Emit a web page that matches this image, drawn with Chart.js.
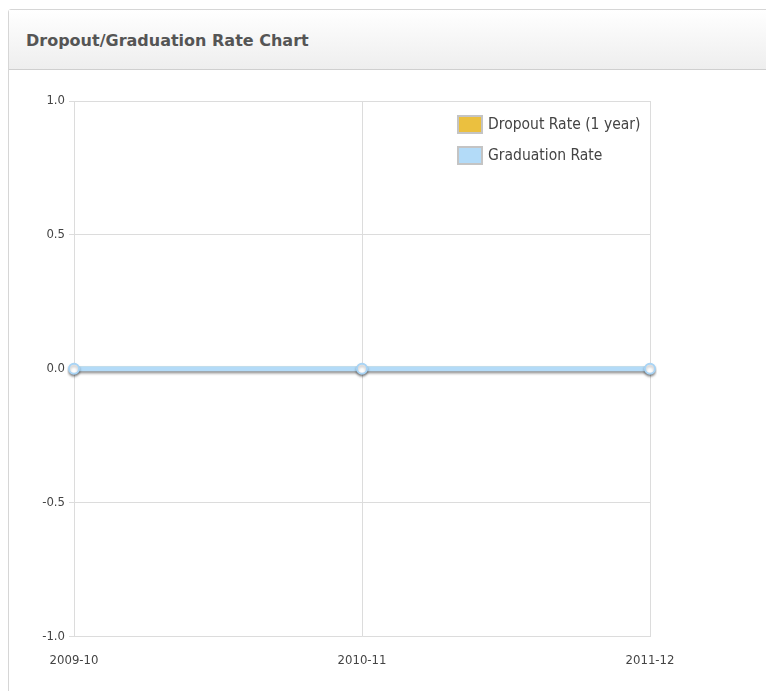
<!DOCTYPE html>
<html>
<head>
<meta charset="utf-8">
<script src="https://cdn.jsdelivr.net/npm/chart.js@4/dist/chart.umd.min.js"></script>
<style>
  body { margin: 0; background: #fff; font-family: 'DejaVu Sans Condensed', 'DejaVu Sans', sans-serif; }
  .panel { position: absolute; left: 8px; top: 9px; width: 780px; height: 700px; border: 1px solid #d6d6d6; border-radius: 3px 0 0 0; }
  .panel-head { height: 59px; border-bottom: 1px solid #cfcfcf; background: linear-gradient(#ffffff, #eeeeee); }
  .panel-head h3 { margin: 0; padding-left: 17px; line-height: 62px; font-size: 16px; font-weight: bold; color: #555; font-family: 'DejaVu Sans', sans-serif; }
  .chart-box { position: absolute; left: 0; top: 60px; width: 757px; height: 621px; }
</style>
</head>
<body>
<div class="panel">
  <div class="panel-head"><h3>Dropout/Graduation Rate Chart</h3></div>
  <div class="chart-box"><canvas id="rateChart"></canvas></div>
</div>
<script>
const years = ['2009-10', '2010-11', '2011-12'];
const dropoutRate = [0, 0, 0];
const graduationRate = [0, 0, 0];
const yTicks = [-1.0, -0.5, 0.0, 0.5, 1.0];

Chart.defaults.font.family = "'DejaVu Sans Condensed', 'DejaVu Sans', sans-serif";
Chart.defaults.font.size = 13;
Chart.defaults.color = '#444';

// soft shadow under each line, like the old flash charts
const lineShadow = {
    id: 'lineShadow',
    beforeDatasetDraw(chart, args) {
        const ctx = chart.ctx;
        ctx.save();
        ctx.shadowColor = 'rgba(0, 0, 0, 0.28)';
        ctx.shadowBlur = 3;
        ctx.shadowOffsetY = 2;
    },
    afterDatasetDraw(chart) {
        chart.ctx.restore();
    }
};

// legend drawn inside the plot, top right
const insideLegend = {
    id: 'insideLegend',
    afterDraw(chart) {
        const ctx = chart.ctx;
        const area = chart.chartArea;
        let x = area.left + 383;
        let y = area.top + 14;
        ctx.save();
        ctx.font = "15.5px 'DejaVu Sans Condensed', 'DejaVu Sans', sans-serif";
        ctx.textBaseline = 'middle';
        chart.data.datasets.forEach(ds => {
            ctx.fillStyle = ds.swatch;
            ctx.fillRect(x, y, 26, 19);
            ctx.strokeStyle = '#c4c4c4';
            ctx.lineWidth = 2;
            ctx.strokeRect(x + 1, y + 1, 24, 17);
            ctx.fillStyle = '#444';
            ctx.fillText(ds.label, x + 31, y + 10);
            y += 31;
        });
        ctx.restore();
    }
};

new Chart(document.getElementById('rateChart'), {
    type: 'line',
    data: {
        labels: years,
        datasets: [
            {
                label: 'Dropout Rate (1 year)',
                data: dropoutRate,
                order: 2,
                swatch: '#ebc03f',
                borderColor: '#ebc03f',
                borderWidth: 4,
                pointRadius: 4,
                pointBackgroundColor: '#ffffff',
                pointBorderColor: '#ebc03f',
                pointBorderWidth: 2,
                tension: 0
            },
            {
                label: 'Graduation Rate',
                data: graduationRate,
                order: 1,
                swatch: '#b3dbf8',
                borderColor: '#b3dbf8',
                borderWidth: 5,
                pointRadius: 5,
                pointBackgroundColor: '#ffffff',
                pointBorderColor: '#a9d4f5',
                pointBorderWidth: 2,
                tension: 0
            }
        ]
    },
    options: {
        responsive: true,
        maintainAspectRatio: false,
        animation: false,
        layout: { padding: { top: 31, right: 116, bottom: 7, left: 0 } },
        plugins: {
            legend: { display: false },
            tooltip: { enabled: false }
        },
        scales: {
            x: {
                offset: false,
                grid: { color: '#dcdcdc', drawTicks: false },
                border: { color: '#dcdcdc' },
                ticks: { padding: 16, color: '#444', maxRotation: 0 }
            },
            y: {
                min: -1,
                max: 1,
                afterFit(scale) { scale.width = 65; },
                afterBuildTicks(scale) { scale.ticks = yTicks.map(v => ({ value: v })); },
                grid: { color: '#dcdcdc', drawTicks: true, tickLength: 5 },
                border: { color: '#dcdcdc' },
                ticks: {
                    padding: 4,
                    color: '#444',
                    callback: v => v.toFixed(1)
                }
            }
        }
    },
    plugins: [lineShadow, insideLegend]
});
</script>
</body>
</html>
